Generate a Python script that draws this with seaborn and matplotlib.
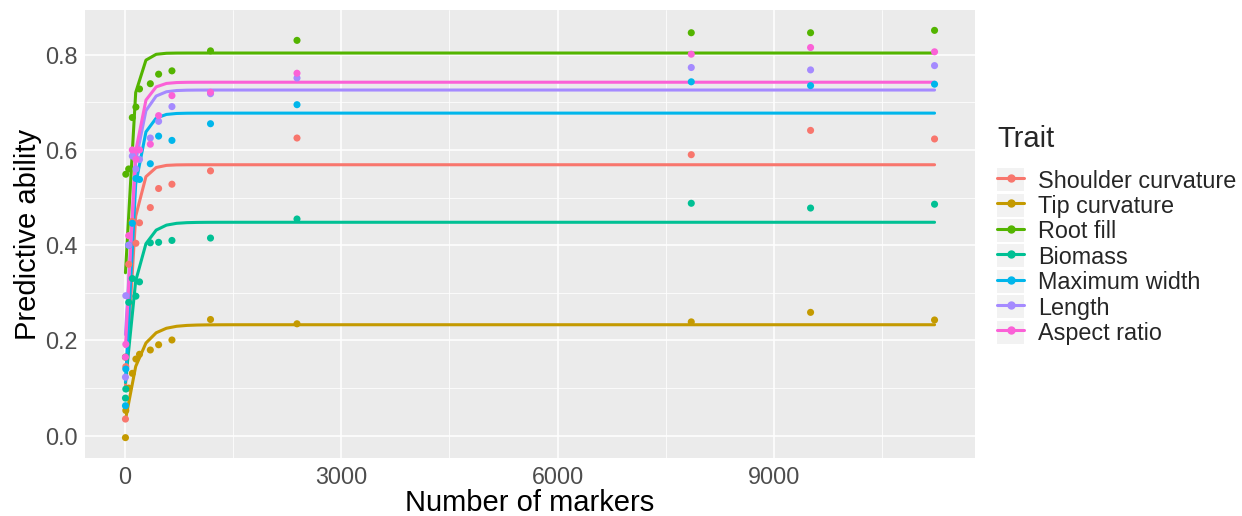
import numpy as np
import pandas as pd
import matplotlib
matplotlib.use("Agg")
import matplotlib.pyplot as plt
import seaborn as sns
from matplotlib.lines import Line2D
from matplotlib.patches import Patch
from matplotlib.legend_handler import HandlerTuple

# numero de marcadores usados en cada prediccion
markers = [5, 10, 50, 100, 150, 200, 350, 465, 650, 1185, 2385, 7855, 9510, 11230]

traits = ["Shoulder curvature", "Tip curvature", "Root fill", "Biomass",
          "Maximum width", "Length", "Aspect ratio"]
colors = ["#F8766D", "#C49A00", "#53B400", "#00C094", "#00B6EB", "#A58AFF", "#FB61D7"]

shoulder = [0.035, 0.145, 0.36, 0.45, 0.404, 0.447, 0.479, 0.519, 0.528, 0.556, 0.625, 0.590, 0.641, 0.623]
tip = [-0.004, 0.053, 0.100, 0.131, 0.161, 0.171, 0.180, 0.191, 0.201, 0.244, 0.235, 0.239, 0.259, 0.243]
root = [0.165, 0.549, 0.560, 0.668, 0.690, 0.728, 0.739, 0.759, 0.766, 0.808, 0.830, 0.846, 0.846, 0.851]
biomass = [0.079, 0.098, 0.28, 0.33, 0.293, 0.323, 0.405, 0.406, 0.410, 0.415, 0.455, 0.488, 0.478, 0.486]
width = [0.063, 0.140, 0.40, 0.446, 0.54, 0.538, 0.571, 0.629, 0.620, 0.655, 0.695, 0.743, 0.735, 0.738]
length = [0.123, 0.294, 0.40, 0.587, 0.56, 0.58, 0.625, 0.660, 0.691, 0.718, 0.751, 0.773, 0.768, 0.777]
aspect = [0.165, 0.192, 0.42, 0.600, 0.58, 0.60, 0.612, 0.672, 0.714, 0.721, 0.761, 0.801, 0.815, 0.806]

valores = [shoulder, tip, root, biomass, width, length, aspect]

df = pd.DataFrame({
    "markers": np.tile(markers, len(traits)),
    "ability": np.concatenate(valores),
    "Trait": np.repeat(traits, len(markers)),
})


def ajuste_asintotico(x, y, n=80):
    # y = a + b*exp(-r*x), busqueda en r y minimos cuadrados en a, b
    x = np.asarray(x, float)
    y = np.asarray(y, float)
    mejor = None
    for r in np.logspace(-4, 0, 3000):
        A = np.column_stack([np.ones_like(x), np.exp(-r * x)])
        coef = np.linalg.lstsq(A, y, rcond=None)[0]
        sse = np.sum((A @ coef - y) ** 2)
        if mejor is None or sse < mejor[0]:
            mejor = (sse, r, coef)
    _, r, (a, b) = mejor
    xs = np.linspace(x.min(), x.max(), n)
    return xs, a + b * np.exp(-r * xs)


filas = []
for t, v in zip(traits, valores):
    xs, ys = ajuste_asintotico(markers, v)
    filas.append(pd.DataFrame({"markers": xs, "fit": ys, "Trait": t}))
df_fit = pd.concat(filas, ignore_index=True)

sns.set_theme(style="darkgrid")
plt.rcParams["font.family"] = ["Liberation Sans", "DejaVu Sans"]

fig, ax = plt.subplots(figsize=(12.42, 5.16), dpi=100)
fig.subplots_adjust(left=85 / 1242, right=975 / 1242, bottom=1 - 458 / 516, top=1 - 10 / 516)
ax.set_facecolor("#EBEBEB")

paleta = dict(zip(traits, colors))
sns.lineplot(data=df_fit, x="markers", y="fit", hue="Trait", palette=paleta,
             linewidth=2.2, legend=False, ax=ax, zorder=2)
sns.scatterplot(data=df, x="markers", y="ability", hue="Trait", palette=paleta,
                s=26, linewidth=0, legend=False, ax=ax, zorder=3)

xmin, xmax = df["markers"].min(), df["markers"].max()
ymin, ymax = df["ability"].min(), df["ability"].max()
ax.set_xlim(xmin - 0.05 * (xmax - xmin), xmax + 0.05 * (xmax - xmin))
ax.set_ylim(ymin - 0.05 * (ymax - ymin), ymax + 0.05 * (ymax - ymin))

ax.set_xticks([0, 3000, 6000, 9000])
ax.set_xticks([1500, 4500, 7500, 10500], minor=True)
ax.set_yticks([0.0, 0.2, 0.4, 0.6, 0.8])
ax.set_yticks([0.1, 0.3, 0.5, 0.7], minor=True)
ax.set_yticklabels(["0.0", "0.2", "0.4", "0.6", "0.8"])
ax.grid(which="major", color="white", linewidth=1.1)
ax.grid(which="minor", color="white", linewidth=0.55)
ax.tick_params(which="major", length=3.5, width=0.8, color="#333333",
               labelsize=16.8, labelcolor="#4D4D4D", pad=2)
ax.tick_params(which="minor", length=0)
for s in ax.spines.values():
    s.set_visible(False)

ax.set_xlabel("Number of markers", fontsize=21, color="black", labelpad=0)
ax.set_ylabel("Predictive ability", fontsize=21, color="black", labelpad=2)

handles = [(Patch(facecolor="#F2F2F2", edgecolor="none"),
            Line2D([], [], color=c, lw=2.2, marker="o", markersize=5))
           for c in colors]
leg = fig.legend(handles, traits, loc="center left", bbox_to_anchor=(997 / 1242, 1 - 235 / 516),
                 frameon=False, fontsize=16.8, title="Trait", title_fontsize=21,
                 handler_map={tuple: HandlerTuple(ndivide=1, pad=0)},
                 handlelength=1.16, handleheight=1.13, labelspacing=0.045, handletextpad=0.6,
                 borderaxespad=0, borderpad=0)
leg._legend_box.align = "left"
leg._legend_box.sep = 11

fig.savefig("out.png", dpi=100)
